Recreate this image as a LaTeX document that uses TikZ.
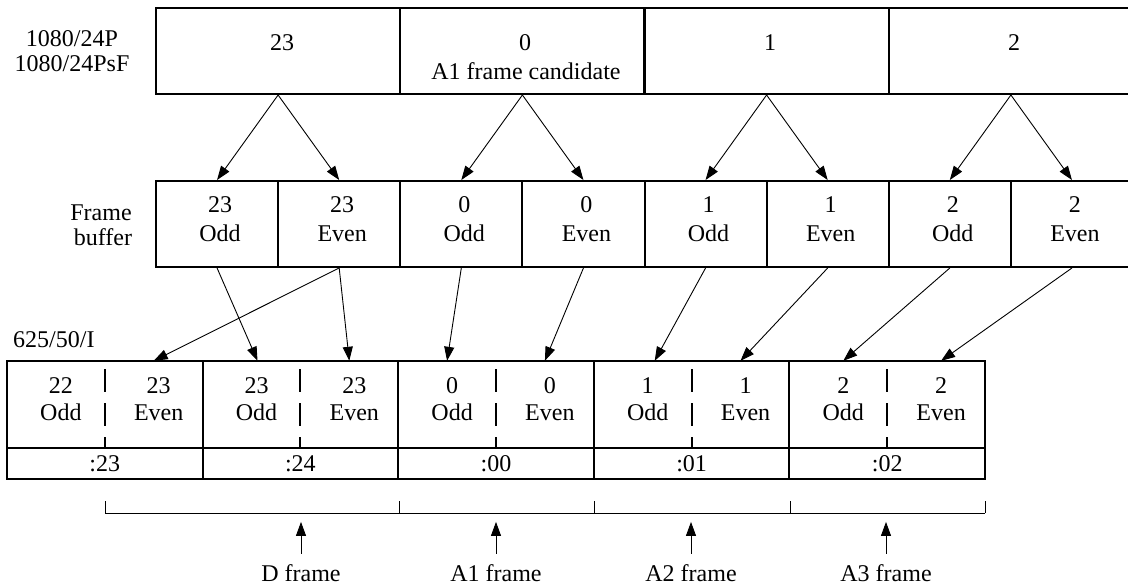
\documentclass[tikz,border=0pt]{standalone}
\usepackage{fontspec}
\setmainfont{Liberation Serif}
\usetikzlibrary{arrows.meta}
\begin{document}
\begin{tikzpicture}[x=1pt,y=-1pt,
  box/.style={draw, line width=2pt, inner sep=0pt, minimum height=86pt},
  half/.style={inner sep=0pt, minimum width=97.8pt, minimum height=87pt},
  txt/.style={inner sep=0pt, anchor=base, font=\fontsize{24}{29}\selectfont},
  conn/.style={line width=0.9pt, -{Triangle[length=14pt,width=10pt]}},
  divider/.style={line width=2pt, dash pattern=on 23pt off 11pt, dash phase=25pt},
  bracket/.style={line width=0.9pt}
]
\clip (0,0) rectangle (1128,587);

% ---------- top row ----------
\foreach \i/\x in {1/278.1,2/522.4,3/766.6,4/1010.9}{
  \node[box, minimum width=244.25pt] (T\i) at (\x,51) {};
}
\node[txt] (Tn1) at (282,50) {23};
\node[txt] (Tn2) at (525,50) {0};
\node[txt] (Tc2) at (526,79) {A1 frame candidate};
\node[txt] (Tn3) at (770,50) {1};
\node[txt] (Tn4) at (1014,50) {2};
\node[txt] (Lt1) at (72,46) {1080/24P};
\node[txt] (Lt2) at (72,71) {1080/24PsF};

% ---------- frame buffer ----------
\foreach \i/\num/\fp in {1/23/Odd,2/23/Even,3/0/Odd,4/0/Even,5/1/Odd,6/1/Even,7/2/Odd,8/2/Even}{
  \node[box, minimum width=122.125pt] (F\i) at ({156+122.125*(\i-0.5)},224) {};
  \node[txt] (Fn\i) at ({159+122.125*(\i-0.5)},212) {\num};
  \node[txt] (Fp\i) at ({159+122.125*(\i-0.5)},241) {\fp};
}
\node[txt] (Lf1) at (101,220) {Frame};
\node[txt] (Lf2) at (103,245) {buffer};

% ---------- 625/50/I ----------
\node[txt, anchor=base west] (Lb) at (13,347) {625/50/I};
\foreach \i/\ln/\rn/\tc in {1/22/23/:23,2/23/23/:24,3/0/0/:00,4/1/1/:01,5/2/2/:02}{
  \node[box, minimum width=195.6pt, minimum height=87pt] (B\i) at ({7+195.6*(\i-0.5)},404.5) {};
  \node[half] (BL\i) at ({7+195.6*(\i-0.5)-48.9},404.5) {};
  \node[half] (BR\i) at ({7+195.6*(\i-0.5)+48.9},404.5) {};
  \node[box, minimum width=195.6pt, minimum height=31pt, font=\fontsize{24}{29}\selectfont] (C\i) at ({7+195.6*(\i-0.5)},463.5) {\tc};
  \draw[divider] (B\i.north) -- (B\i.south);
  \node[txt] (BLn\i) at ({7+195.6*(\i-0.5)-43.9},393) {\ln};
  \node[txt] (BLp\i) at ({7+195.6*(\i-0.5)-43.9},420) {Odd};
  \node[txt] (BRn\i) at ({7+195.6*(\i-0.5)+53.9},393) {\rn};
  \node[txt] (BRp\i) at ({7+195.6*(\i-0.5)+53.9},420) {Even};
}

% ---------- arrows top -> frame buffer ----------
\foreach \t/\a/\b in {1/1/2,2/3/4,3/5/6,4/7/8}{
  \draw[conn] (T\t.south) -- (F\a.north);
  \draw[conn] (T\t.south) -- (F\b.north);
}

% ---------- arrows frame buffer -> 625/50/I ----------
\draw[conn] (F1.south) -- ([xshift=6pt]BL2.north);
\draw[conn] (F2.south) -- (BR1.north);
\draw[conn] (F2.south) -- (BR2.north);
\draw[conn] (F3.south) -- (BL3.north);
\draw[conn] (F4.south) -- (BR3.north);
\draw[conn] (F5.south) -- ([xshift=12pt]BL4.north);
\draw[conn] (F6.south) -- (BR4.north);
\draw[conn] (F7.south) -- ([xshift=5pt]BL5.north);
\draw[conn] (F8.south) -- ([xshift=5pt]BR5.north);

% ---------- bracket ----------
\foreach \i/\x in {1/105,2/399,3/594,4/790,5/985}{
  \coordinate (k\i) at (\x,513);
  \draw[bracket] (k\i) -- ++(0,-12);
}
\draw[bracket] (k1) -- (k5);

% ---------- frame labels ----------
\foreach \i/\x/\lab in {1/301/D frame,2/496/A1 frame,3/691/A2 frame,4/886/A3 frame}{
  \node[txt] (Lab\i) at (\x,581) {\lab};
  \draw[conn] ([yshift=10pt]Lab\i.north) -- ([yshift=42pt]Lab\i.north);
}
\end{tikzpicture}
\end{document}
